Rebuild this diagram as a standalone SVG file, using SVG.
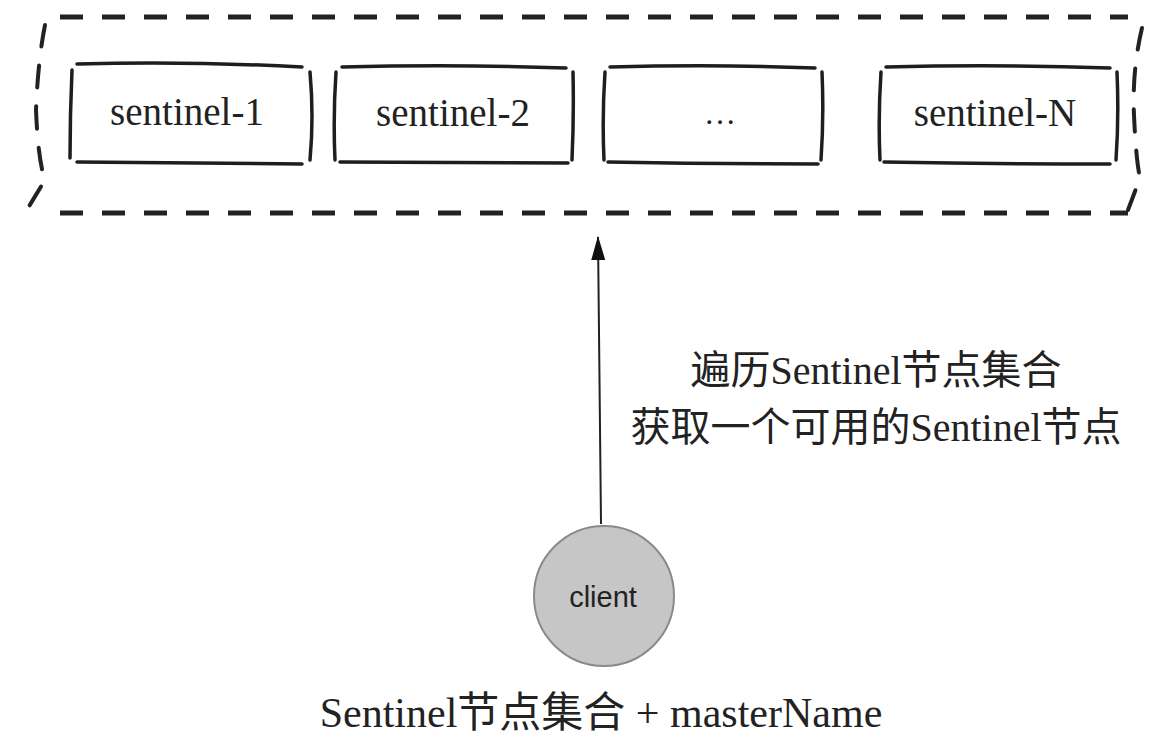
<svg xmlns="http://www.w3.org/2000/svg" width="1164" height="740" viewBox="0 0 1164 740">
<style>
.box{fill:none;stroke:#1e1e1e;stroke-width:3.5;stroke-linecap:round;stroke-linejoin:round}
.dash{fill:none;stroke:#222;stroke-width:5;stroke-dasharray:23 19;stroke-linecap:butt}
.side{fill:none;stroke:#222;stroke-width:4;stroke-dasharray:22 19;stroke-linecap:round}
.lbl{font-family:"Liberation Serif","Noto Sans CJK SC",serif;fill:#222;text-anchor:middle}
.cjk{font-family:"Liberation Serif","Noto Sans CJK SC",serif;fill:#222;text-anchor:middle;font-size:40px}
.conn{stroke:#222;stroke-width:2;fill:none}
</style>
<defs>
<marker id="arr" viewBox="0 0 24 14" refX="23" refY="7" markerWidth="24" markerHeight="14" orient="auto" markerUnits="userSpaceOnUse">
<path d="M0,0 L24,7 L0,14 z" fill="#111"/>
</marker>
</defs>
<g id="container">
<path class="dash" d="M60,17 L1128,17"/>
<path class="dash" d="M60,213 L1128,213"/>
<path class="side" d="M45,25 Q38,60 36,110 Q38,160 45,180 L28,208"/>
<path class="side" d="M1142,28 Q1132,70 1134,115 Q1136,160 1140,178 L1128,210"/>
</g>
<g id="sentinel-1">
<path class="box" d="M77,64 Q190,61 302,67 M72,70 Q70,115 70,158 M310,72 Q314,117 310,160 M77,162 Q190,163 302,164"/>
<text class="lbl" x="187" y="125" font-size="39">sentinel-1</text>
</g>
<g id="sentinel-2">
<path class="box" d="M342,67 Q455,64 566,68 M336,72 Q333,117 335,160 M573,72 Q574,117 572,160 M340,162 Q455,163 568,163"/>
<text class="lbl" x="453" y="126" font-size="39">sentinel-2</text>
</g>
<g id="sentinel-dots">
<path class="box" d="M610,67 Q715,64 815,68 M605,72 Q602,117 604,160 M822,72 Q824,117 821,160 M608,162 Q715,164 818,164"/>
<text class="lbl" x="720" y="124" font-size="32">…</text>
</g>
<g id="sentinel-N">
<path class="box" d="M886,67 Q998,64 1110,68 M881,72 Q878,117 880,160 M1117,72 Q1119,117 1116,160 M884,162 Q998,164 1110,164"/>
<text class="lbl" x="995" y="126" font-size="39">sentinel-N</text>
</g>
<g id="connectors">
<line class="conn" x1="601" y1="524" x2="598" y2="237" marker-end="url(#arr)"/>
</g>
<g id="label">
<text class="cjk" x="876" y="384">遍历Sentinel节点集合</text>
<text class="cjk" x="876" y="441">获取一个可用的Sentinel节点</text>
</g>
<g id="client">
<circle cx="604" cy="596" r="70" fill="#c6c6c6" stroke="#8a8a8a" stroke-width="2"/>
<text x="603" y="607" font-family="'Liberation Sans',Arial,sans-serif" font-size="29" fill="#222" text-anchor="middle">client</text>
</g>
<g id="caption">
<text class="lbl" x="601" y="727" font-size="42">Sentinel节点集合 + masterName</text>
</g>
</svg>
